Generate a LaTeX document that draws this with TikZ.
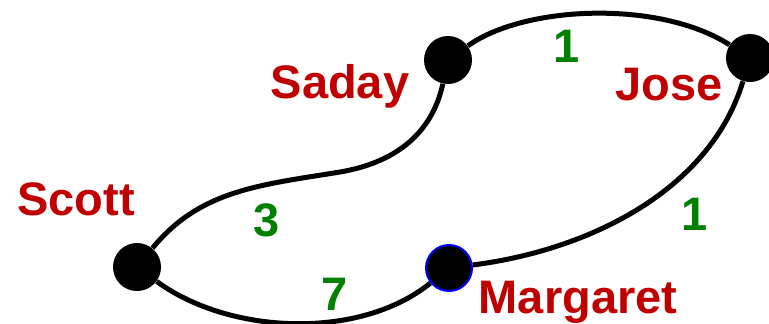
\documentclass[tikz,border=0pt]{standalone}
\usepackage{fontspec}
\setmainfont{Liberation Sans}
\definecolor{namered}{RGB}{192,0,0}
\definecolor{weightgreen}{RGB}{0,128,0}
\tikzset{
  person/.style={circle,fill=black,inner sep=0pt,minimum size=24pt},
  personname/.style={anchor=base,text=namered,font=\fontsize{23.5}{26}\selectfont\bfseries},
  weightlabel/.style={anchor=base,text=weightgreen,font=\fontsize{23.5}{26}\selectfont\bfseries},
  link/.style={line width=2.5pt}
}

\begin{document}
\begin{tikzpicture}[x=.5pt,y=-.5pt]
 \useasboundingbox (0,0) rectangle (769,323);
 % people
 \node[person] (saday) at (448,60) {};
 \node[person] (jose) at (750,58) {};
 \node[person] (scott) at (137,267) {};
 \node[person,draw=blue,line width=1pt,minimum size=23pt] (margaret) at (449,268) {};
 \coordinate (bend) at (340,172);
 % friendships
 \draw[link] (saday) .. controls (525,5) and (660,0) .. (jose);
 \draw[link] (saday) .. controls (435,120) and (410,160) .. (bend)
   .. controls (260,185) and (200,190) .. (scott);
 \draw[link] (scott) .. controls (230,335) and (360,340) .. (margaret);
 \draw[link] (margaret) .. controls (590,250) and (710,190) .. (jose);
 % names
 \node[personname] (sadayname) at (340,98) {Saday};
 \node[personname] (josename) at (669,100) {Jose};
 \node[personname] (scottname) at (76,215) {Scott};
 \node[personname] (margaretname) at (578,313) {Margaret};
 % weights
 \node[weightlabel] (wsj) at (567,62) {1};
 \node[weightlabel] (wss) at (267,236) {3};
 \node[weightlabel] (wsm) at (335,310) {7};
 \node[weightlabel] (wmj) at (695,230) {1};
\end{tikzpicture}
\end{document}
